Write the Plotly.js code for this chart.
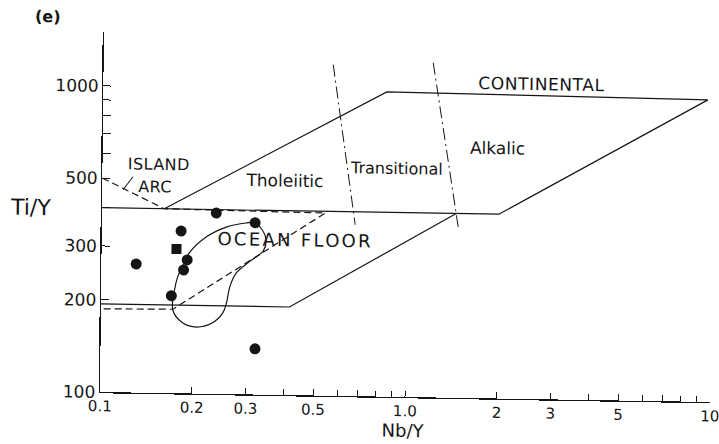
<!DOCTYPE html>
<html>
<head>
<meta charset="utf-8">
<script src="https://cdn.plot.ly/plotly-3.0.1.min.js"></script>
<style>
  html, body { margin: 0; padding: 0; background: #fff; }
  #plot { width: 719px; height: 444px; transform-origin: 100px 392px;
          transform: matrix(1, 0.0164, -0.011, 1, 0, 0); }
</style>
</head>
<body>
<div id="plot"></div>
<script>
// Sample analyses (Nb/Y, Ti/Y)
const circleNbY = [0.130, 0.182, 0.191, 0.186, 0.170, 0.237, 0.318, 0.321];
const circleTiY = [263, 339, 273, 253, 208, 390, 364, 141];
const squareNbY = [0.176];
const squareTiY = [296];

// Field boundaries
const baseLineX = [0.1, 2.0];
const baseLineY = [400, 400];
const continentalX = [0.16, 0.85, 9.6, 2.0];
const continentalY = [400, 990, 970, 400];
const lowerEdgeX = [0.1, 0.415, 1.45];
const lowerEdgeY = [194, 194, 400];
const islandArcX = [0.1, 0.16, 0.54, 0.172, 0.1];
const islandArcY = [500, 400, 395, 188, 187];
const transLeftX = [0.566, 0.677];
const transLeftY = [1206, 363];
const transRightX = [1.204, 1.473];
const transRightY = [1239, 362];
const oceanFloorX = [0.194, 0.220, 0.256, 0.297, 0.316, 0.336, 0.346, 0.339, 0.305, 0.277,
                     0.264, 0.258, 0.251, 0.231, 0.203, 0.184, 0.172, 0.174, 0.178, 0.184, 0.194];
const oceanFloorY = [288, 325, 351, 363, 364, 345, 320, 295, 271, 249,
                     224, 199, 184, 170, 165, 171, 187, 217, 240, 259, 288];
const arcLeaderX = [0.117, 0.126];
const arcLeaderY = [459, 507];

// Field labels
const fieldLabels = ['CONTINENTAL', 'Alkalic', 'Transitional', 'Tholeiitic', 'ISLAND', 'ARC', 'OCEAN FLOOR'];
const fieldLabelX = [2.73, 1.97, 0.923, 0.397, 0.153, 0.149, 0.431];
const fieldLabelY = [1056, 649, 551, 495, 552, 466, 317];
const fieldLabelSize = [17, 17, 16, 17, 16, 16, 18];
const fieldLabelSpacing = [0.6, 0, 0, 0, 0.4, 0.4, 2.3];

// Axis ticks
const xTickVals = [0.1, 0.2, 0.3, 0.4, 0.5, 0.6, 0.7, 0.8, 0.9, 1, 2, 3, 4, 5, 6, 7, 8, 9, 10];
const xTickText = ['0.1', '0.2', '0.3', '', '0.5', '', '', '', '', '1.0', '2', '3', '', '5', '', '', '', '', '10'];
const yTickVals = [100, 200, 300, 400, 500, 600, 700, 800, 900, 1000, 1500];
const yTickText = ['100', '200', '300', '', '500', '', '', '', '', '1000', ''];

const ink = '#151515';
const font = 'DejaVu Sans, sans-serif';

function line(x, y, dash, width) {
  return { x: x, y: y, mode: 'lines', hoverinfo: 'skip', showlegend: false,
           line: { color: ink, width: width || 1.2, dash: dash || 'solid' } };
}

const traces = [
  line(baseLineX, baseLineY),
  line(continentalX, continentalY),
  line(lowerEdgeX, lowerEdgeY),
  line(islandArcX, islandArcY, '7px,4px'),
  line(transLeftX, transLeftY, '12px,4px,2px,4px', 1),
  line(transRightX, transRightY, '12px,4px,2px,4px', 1),
  line(arcLeaderX, arcLeaderY, 'solid', 1),
  Object.assign(line(oceanFloorX, oceanFloorY), { line: { color: ink, width: 1.2, shape: 'spline', smoothing: 1 } }),
  { x: circleNbY, y: circleTiY, mode: 'markers', showlegend: false,
    marker: { symbol: 'circle', size: 11, color: ink } },
  { x: squareNbY, y: squareTiY, mode: 'markers', showlegend: false,
    marker: { symbol: 'square', size: 10, color: ink } },
  { x: fieldLabelX, y: fieldLabelY, text: fieldLabels, mode: 'text', showlegend: false,
    textposition: 'middle center', hoverinfo: 'skip',
    textfont: { family: font, size: fieldLabelSize, color: ink } }
];

const layout = {
  width: 719, height: 444,
  margin: { l: 100, r: 9, t: 32, b: 52 },
  paper_bgcolor: '#fff', plot_bgcolor: '#fff',
  showlegend: false,
  xaxis: {
    type: 'log', range: [-1, 1], showgrid: false, zeroline: false,
    showline: true, linecolor: ink, linewidth: 1.3,
    ticks: 'inside', ticklen: 6, tickwidth: 1, tickcolor: ink,
    tickmode: 'array', tickvals: xTickVals, ticktext: xTickText,
    ticklabeloverflow: 'allow',
    tickfont: { family: font, size: 15, color: ink }
  },
  yaxis: {
    type: 'log', range: [2, Math.log10(1500)], showgrid: false, zeroline: false,
    showline: true, linecolor: ink, linewidth: 1.3,
    ticks: 'inside', ticklen: 8, tickwidth: 1, tickcolor: ink,
    tickmode: 'array', tickvals: yTickVals, ticktext: yTickText,
    tickfont: { family: font, size: 17, color: ink }
  },
  annotations: [
    { text: 'Ti/Y', xref: 'paper', yref: 'paper', x: -0.118, y: 0.511,
      xanchor: 'center', yanchor: 'middle', showarrow: false,
      font: { family: font, size: 22, color: ink } },
    { text: 'Nb/Y', xref: 'paper', yref: 'paper', x: 0.497, y: -0.092,
      xanchor: 'center', yanchor: 'middle', showarrow: false,
      font: { family: font, size: 18, color: ink } },
    { text: '<b>(e)</b>', xref: 'paper', yref: 'paper', x: -0.092, y: 1.041,
      xanchor: 'center', yanchor: 'middle', showarrow: false,
      font: { family: font, size: 16, color: ink } }
  ]
};

Plotly.newPlot('plot', traces, layout, { staticPlot: true }).then(function (gd) {
  // widen the lettering of the field labels a little
  gd.querySelectorAll('.textpoint text').forEach(function (el) {
    const i = fieldLabels.indexOf(el.textContent);
    if (i >= 0 && fieldLabelSpacing[i]) {
      el.style.letterSpacing = fieldLabelSpacing[i] + 'px';
    }
  });
});
</script>
</body>
</html>
